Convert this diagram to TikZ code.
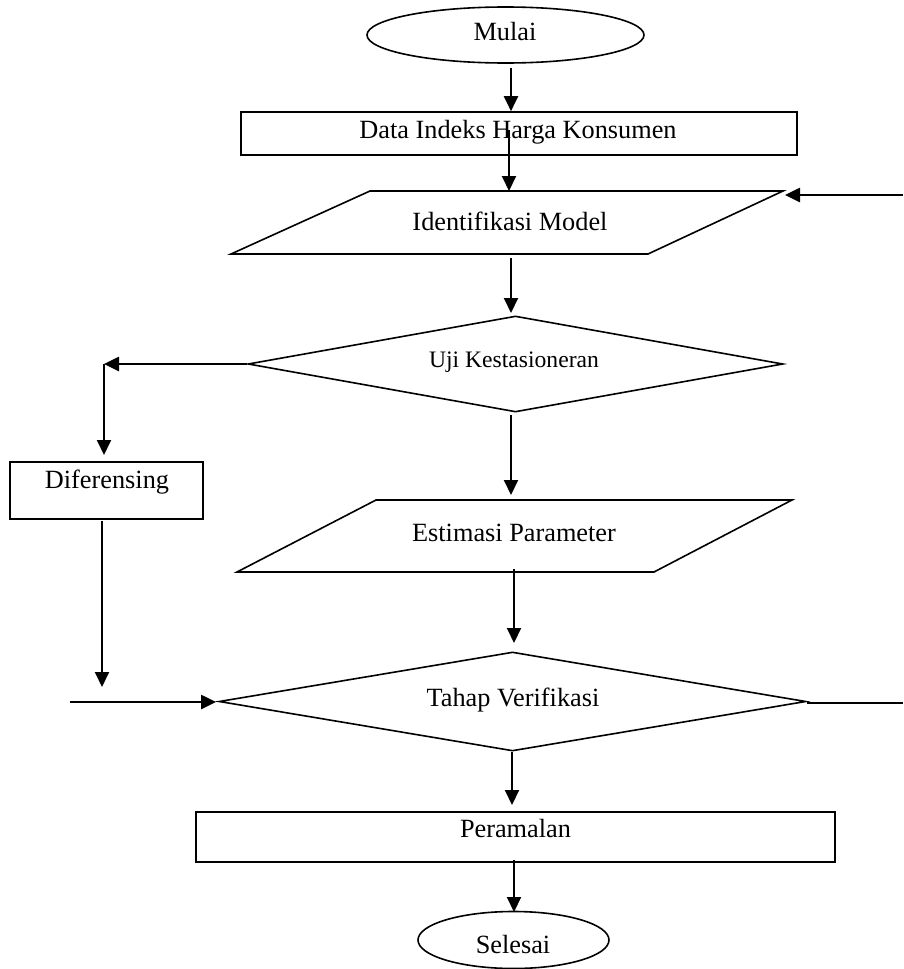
\documentclass[tikz,border=0pt]{standalone}
\usepackage{fontspec}
\setmainfont{Liberation Serif}
\usetikzlibrary{shapes.geometric,arrows.meta}
\begin{document}
\begin{tikzpicture}[x=1pt,y=-1pt,
  shp/.style={draw,line width=1.6pt,inner sep=0pt},
  lbl/.style={anchor=base,inner sep=0pt,font=\fontsize{26.3}{30}\selectfont},
  lbls/.style={anchor=base,inner sep=0pt,font=\fontsize{23.6}{28}\selectfont},
  arr/.style={line width=2pt,-{Triangle[length=15pt,width=14pt]}},
  thick arr/.style={arr,line width=2.6pt},
  ln/.style={line width=2pt}]
\useasboundingbox (0,0) rectangle (903,969);
% shapes
\node[shp,ellipse,minimum width=277pt,minimum height=56pt] (mulai) at (505.5,35) {};
\node[lbl] (tmulai) at (505,40) {Mulai};
\node[shp,rectangle,minimum width=556pt,minimum height=43pt] (data) at (519,133.5) {};
\node[lbl] (tdata) at (518,138) {Data Indeks Harga Konsumen};
\draw[shp] (370,191) coordinate (identTL) -- (783,191) coordinate (identTR) -- (648,254) -- (231,254) coordinate (identBL) -- cycle;
\node[lbl] (tident) at (510,230) {Identifikasi Model};
\node[shp,diamond,minimum width=535pt,minimum height=96pt] (uji) at (515.5,364) {};
\node[lbls] (tuji) at (514,367) {Uji Kestasioneran};
\node[shp,rectangle,minimum width=193pt,minimum height=57pt] (dif) at (106.5,490.5) {};
\node[lbl] (tdif) at (107,488) {Diferensing};
\draw[shp] (376,500) coordinate (estTL) -- (792,500) -- (654,572) -- (237,572) coordinate (estBL) -- cycle;
\node[lbl] (test) at (514,541) {Estimasi Parameter};
\node[shp,diamond,minimum width=587pt,minimum height=99pt] (tahap) at (512.5,701.5) {};
\node[lbl] (ttahap) at (513,706) {Tahap Verifikasi};
\node[shp,rectangle,minimum width=639pt,minimum height=50pt] (ramal) at (515.5,837) {};
\node[lbl] (tramal) at (515.5,837) {Peramalan};
\node[shp,ellipse,minimum width=191pt,minimum height=57pt] (selesai) at (513.5,940) {};
\node[lbl] (tselesai) at (513,953) {Selesai};
% coordinates for connector ends
\coordinate (a1s) at (511,68);
\coordinate (a2s) at (509,130);
\coordinate (loopR) at (903,195);
\coordinate (loopTip) at (785,195);
\coordinate (a3s) at (511,258);
\coordinate (a3e) at (511,313);
\coordinate (ujiL) at (104,364);
\coordinate (difIn) at (104,455);
\coordinate (difOut) at (102,521);
\coordinate (difEnd) at (102,687);
\coordinate (a4s) at (511,415);
\coordinate (a4e) at (511,495);
\coordinate (a5s) at (514,569);
\coordinate (a5e) at (514,643);
\coordinate (inL) at (70,702);
\coordinate (inTip) at (216,702);
\coordinate (outR) at (903,703);
\coordinate (a6s) at (512,752);
\coordinate (a6e) at (512,805);
\coordinate (a7s) at (514,860);
\coordinate (a7e) at (514,912);
% connectors
\draw[arr] (a1s) -- (a1s |- data.north);
\draw[arr] (a2s) -- (a2s |- identTL);
\draw[thick arr] (loopR) -- (loopTip);
\draw[arr] (a3s) -- (a3e);
\draw[thick arr] (uji.west) -- (ujiL);
\draw[arr] (ujiL) -- (difIn);
\draw[arr] (difOut) -- (difEnd);
\draw[arr] (a4s) -- (a4e);
\draw[arr] (a5s) -- (a5e);
\draw[thick arr] (inL) -- (inTip);
\draw[ln] (tahap.east |- outR) -- (outR);
\draw[arr] (a6s) -- (a6e);
\draw[arr] (a7s) -- (a7e);
\end{tikzpicture}
\end{document}
